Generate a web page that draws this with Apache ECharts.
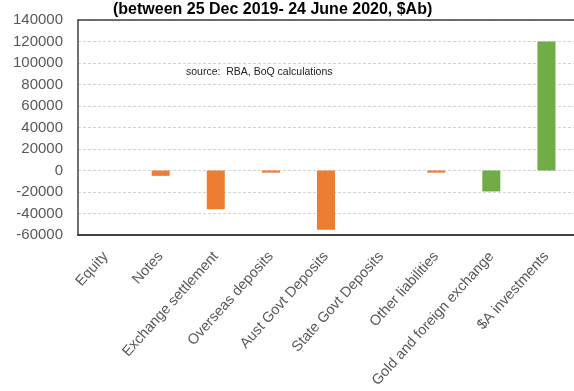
<!DOCTYPE html>
<html><head><meta charset="utf-8">
<script src="https://cdn.jsdelivr.net/npm/echarts@6/dist/echarts.min.js"></script>
<style>html,body{margin:0;padding:0;background:#fff}#c{width:574px;height:391px}</style>
</head><body><div id="c"></div>
<script>
const titleText = "(between 25 Dec 2019- 24 June 2020, $Ab)";
const sourceText = "source:  RBA, BoQ calculations";
const categories = ["Equity","Notes","Exchange settlement","Overseas deposits","Aust Govt Deposits","State Govt Deposits","Other liabilities","Gold and foreign exchange","$A investments"];
const liabilities = [0,-5000,-36000,-2000,-55000,0,-2000,null,null];
const assets = [null,null,null,null,null,null,null,-19500,120000];
const yMin = -60000, yMax = 140000, yStep = 20000;

const chart = echarts.init(document.getElementById('c'));
chart.setOption({
  animation:false,
  backgroundColor:'#fff',
  title:{text:titleText,left:108,top:-3,textStyle:{fontFamily:'Liberation Sans, Arial',fontSize:16,fontWeight:'bold',color:'#000'}},
  graphic:[{type:'text',left:186,top:67,style:{text:sourceText,font:'10.5px "Liberation Sans", Arial',fill:'#222'}}],
  grid:{left:78,top:20,right:-6,height:215,show:false,containLabel:false},
  xAxis:[{type:'category',data:categories,
    axisLine:{show:true,onZero:false,lineStyle:{color:'#404040',width:2}},axisTick:{show:false},
    axisLabel:{interval:0,rotate:48,margin:19,fontFamily:'Liberation Sans, Arial',fontSize:14.5,color:'#595959'}},
   {type:'category',data:categories,position:'top',
    axisLine:{show:true,onZero:false,lineStyle:{color:'#404040',width:1.5}},axisTick:{show:false},axisLabel:{show:false}}],
  yAxis:{type:'value',min:yMin,max:yMax,interval:yStep,
    axisLine:{show:true,lineStyle:{color:'#404040',width:1.5}},axisTick:{show:false},
    axisLabel:{margin:15,fontFamily:'Liberation Sans, Arial',fontSize:15,color:'#595959',formatter:v=>String(v)},
    splitLine:{show:true,lineStyle:{color:'#d4d4d4',type:[3,2],width:1}}},
  series:[
    {type:'bar',name:'Liabilities',stack:'a',data:liabilities,barWidth:18,itemStyle:{color:'#ED7D31'}},
    {type:'bar',name:'Assets',stack:'a',data:assets,barWidth:18,itemStyle:{color:'#70AD47'}}
  ]
});
</script></body></html>
